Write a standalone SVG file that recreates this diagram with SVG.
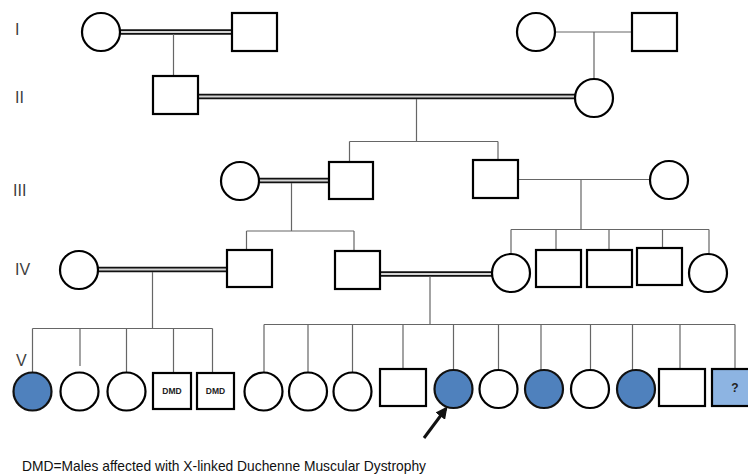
<svg xmlns="http://www.w3.org/2000/svg" width="748" height="475" viewBox="0 0 748 475">
<defs>
<style>
.sh{fill:#fff;stroke:#000;stroke-width:2.2}
.aff{fill:#4f81bd;stroke:#111;stroke-width:2.2}
.unk{fill:#8db4e2;stroke:#000;stroke-width:2.2}
.ln{fill:none;stroke:#666;stroke-width:1.2}
.dbo{fill:none;stroke:#111;stroke-width:5.5}
.dbi{fill:none;stroke:#d4d4d4;stroke-width:1.8}
.gen{font-family:"Liberation Sans",Arial,sans-serif;font-size:16px;fill:#404040}
.dmd{font-family:"Liberation Sans",Arial,sans-serif;font-size:8.5px;font-weight:bold;fill:#222;text-anchor:middle}
.q{font-family:"Liberation Sans",Arial,sans-serif;font-size:12px;font-weight:bold;fill:#222;text-anchor:middle}
.foot{font-family:"Liberation Sans",Arial,sans-serif;font-size:15px;fill:#111}
</style>
<marker id="ah" viewBox="0 0 10 10" refX="8" refY="5" markerWidth="4" markerHeight="4" orient="auto">
<path d="M0,0 L10,5 L0,10 Z" fill="#111"/>
</marker>
</defs>
<rect width="748" height="475" fill="#fff"/>

<g id="labels">
<text class="gen" x="15" y="35">I</text>
<text class="gen" x="15" y="103">II</text>
<text class="gen" x="13" y="196">III</text>
<text class="gen" x="15" y="275">IV</text>
<text class="gen" x="16" y="366">V</text>
</g>

<g id="connectors">
<path class="dbo" d="M120,32 H232 M198,96.5 H575 M259,180.5 H329 M98,269.5 H227 M380,274 H492"/>
<path class="dbi" d="M120,32 H232 M198,96.5 H575 M259,180.5 H329 M98,269.5 H227 M380,274 H492"/>
<path class="ln" d="M173.5,34 V76 M555,32 H632 M594,32 V79"/>
<path class="ln" d="M416.5,99 V141.5 M349.5,141.5 H498 M349.5,141.5 V162 M498,141.5 V160"/>
<path class="ln" d="M291.5,183 V231 M246.5,231 H354 M246.5,231 V250 M354,231 V251"/>
<path class="ln" d="M518,179.5 H650 M581,179.5 V229.5 M511,229.5 H709 M511,229.5 V254 M556,229.5 V250 M609,229.5 V250 M662.5,229.5 V248 M709,229.5 V254"/>
<path class="ln" d="M152.5,272 V328.5 M32.5,328.5 H212.5 M32.5,328.5 V372.5 M80,328.5 V366 M126.5,328.5 V372.5 M173.5,328.5 V373 M212.5,328.5 V373"/>
<path class="ln" d="M430,276.5 V324.5 M264,324.5 H735 M264,324.5 V372.5 M308,324.5 V372.5 M352.5,324.5 V372.5 M403,324.5 V369 M453.5,324.5 V370 M498.5,324.5 V370 M541,324.5 V370 M590.5,324.5 V370 M632.5,324.5 V370 M680,324.5 V369 M735,324.5 V369"/>
<path d="M424,438 L446,408.5" stroke="#111" stroke-width="3" fill="none" marker-end="url(#ah)"/>
</g>

<g id="I-1"><circle class="sh" cx="101" cy="32" r="19"/></g>
<g id="I-2"><rect class="sh" x="232" y="13" width="45" height="38"/></g>
<g id="I-3"><circle class="sh" cx="536" cy="32" r="19"/></g>
<g id="I-4"><rect class="sh" x="632" y="13" width="45" height="38"/></g>

<g id="II-1"><rect class="sh" x="153" y="76" width="45" height="38"/></g>
<g id="II-2"><circle class="sh" cx="594" cy="98" r="19"/></g>

<g id="III-1"><circle class="sh" cx="240" cy="181" r="19"/></g>
<g id="III-2"><rect class="sh" x="329" y="162" width="44" height="37"/></g>
<g id="III-3"><rect class="sh" x="473" y="160" width="45" height="38"/></g>
<g id="III-4"><circle class="sh" cx="669" cy="180" r="19"/></g>

<g id="IV-1"><circle class="sh" cx="79" cy="270" r="19"/></g>
<g id="IV-2"><rect class="sh" x="227" y="250" width="45" height="37"/></g>
<g id="IV-3"><rect class="sh" x="335" y="251" width="45" height="38"/></g>
<g id="IV-4"><circle class="sh" cx="511" cy="273" r="19"/></g>
<g id="IV-5"><rect class="sh" x="536" y="250" width="45" height="37"/></g>
<g id="IV-6"><rect class="sh" x="587" y="250" width="45" height="37"/></g>
<g id="IV-7"><rect class="sh" x="637" y="248" width="45" height="37"/></g>
<g id="IV-8"><circle class="sh" cx="708" cy="273" r="19"/></g>

<g id="V-1"><circle class="aff" cx="32.5" cy="391.5" r="19"/></g>
<g id="V-2"><circle class="sh" cx="79.5" cy="391.5" r="19"/></g>
<g id="V-3"><circle class="sh" cx="126.5" cy="391.5" r="19"/></g>
<g id="V-4"><rect class="sh" x="153" y="373" width="38" height="36"/><text class="dmd" x="172" y="394">DMD</text></g>
<g id="V-5"><rect class="sh" x="197" y="373" width="37" height="36"/><text class="dmd" x="215.5" y="394">DMD</text></g>
<g id="V-6"><circle class="sh" cx="263.5" cy="391.5" r="19"/></g>
<g id="V-7"><circle class="sh" cx="308" cy="391.5" r="19"/></g>
<g id="V-8"><circle class="sh" cx="352.5" cy="391.5" r="19"/></g>
<g id="V-9"><rect class="sh" x="380" y="369" width="46" height="37"/></g>
<g id="V-10"><circle class="aff" cx="453.5" cy="389" r="19"/></g>
<g id="V-11"><circle class="sh" cx="498.5" cy="389" r="19"/></g>
<g id="V-12"><circle class="aff" cx="544" cy="389" r="19"/></g>
<g id="V-13"><circle class="sh" cx="590" cy="389" r="19"/></g>
<g id="V-14"><circle class="aff" cx="636" cy="389" r="19"/></g>
<g id="V-15"><rect class="sh" x="659" y="369" width="46" height="37"/></g>
<g id="V-16"><rect class="unk" x="712" y="369" width="45" height="37"/><text class="q" x="735" y="392">?</text></g>

<g id="footer">
<text class="foot" x="22" y="471" textLength="404" lengthAdjust="spacingAndGlyphs">DMD=Males affected with X-linked Duchenne Muscular Dystrophy</text>
</g>
</svg>
